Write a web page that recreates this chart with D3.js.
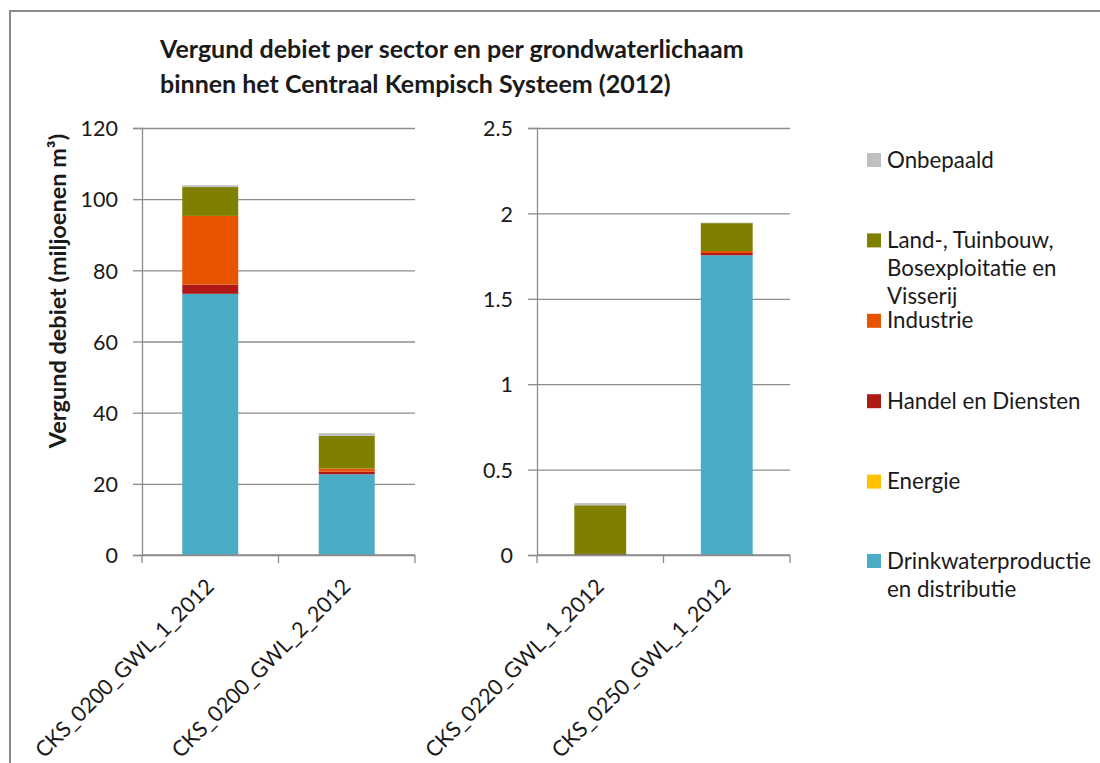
<!DOCTYPE html>
<html>
<head>
<meta charset="utf-8">
<script src="https://cdn.jsdelivr.net/npm/d3@7"></script>
<style>
  html, body { margin: 0; padding: 0; background: #fff; }
  svg { display: block; font-family: Lato, "Open Sans", sans-serif; }
</style>
</head>
<body>
<svg id="chart" width="1100" height="763"></svg>
<script>
// Groundwater bodies, split over two panels with their own scale
const categoriesLeft = ["CKS_0200_GWL_1_2012", "CKS_0200_GWL_2_2012"];
const categoriesRight = ["CKS_0220_GWL_1_2012", "CKS_0250_GWL_1_2012"];

// Sectors, stacked bottom to top
const sectors = [
  "Drinkwaterproductie en distributie",
  "Energie",
  "Handel en Diensten",
  "Industrie",
  "Land-, Tuinbouw, Bosexploitatie en Visserij",
  "Onbepaald"
];

// Licensed volume (million m³), in the order of categoriesLeft then categoriesRight
const drinkwater = [73.4, 22.7, 0, 1.755];
const energie    = [0, 0, 0, 0];
const handel     = [2.6, 0.75, 0.006, 0.013];
const industrie  = [19.3, 0.85, 0, 0.012];
const land       = [8.1, 9.2, 0.285, 0.163];
const onbepaald  = [0.5, 0.75, 0.013, 0.003];

const ticksLeft = [0, 20, 40, 60, 80, 100, 120];
const ticksRight = [0, 0.5, 1, 1.5, 2, 2.5];

const colors = ["#4BACC6", "#FFC000", "#B01A16", "#E85300", "#7F7F00", "#C0C0C0"];
const legendLines = [
  ["Drinkwaterproductie", "en distributie"],
  ["Energie"],
  ["Handel en Diensten"],
  ["Industrie"],
  ["Land-, Tuinbouw,", "Bosexploitatie en", "Visserij"],
  ["Onbepaald"]
];

const allCats = categoriesLeft.concat(categoriesRight);
const table = allCats.map((c, i) => ({
  cat: c,
  [sectors[0]]: drinkwater[i],
  [sectors[1]]: energie[i],
  [sectors[2]]: handel[i],
  [sectors[3]]: industrie[i],
  [sectors[4]]: land[i],
  [sectors[5]]: onbepaald[i]
}));
const stacked = d3.stack().keys(sectors)(table);
const color = d3.scaleOrdinal().domain(sectors).range(colors);

const svg = d3.select("#chart");
const gridColor = "#8c8c8c";
const textColor = "#1a1a1a";

// frame of the chart area
svg.append("path")
  .attr("d", "M10,763 L10,11 L1100,11")
  .attr("fill", "none").attr("stroke", "#8a8a8a").attr("stroke-width", 2);

// title
const title = svg.append("text")
  .attr("x", 160).attr("font-size", 25).attr("font-weight", 700).attr("fill", textColor);
title.append("tspan").attr("x", 160).attr("y", 58).text("Vergund debiet per sector en per grondwaterlichaam");
title.append("tspan").attr("x", 160).attr("y", 93).text("binnen het Centraal Kempisch Systeem (2012)");

const plotTop = 128, plotBottom = 555;

function panel(cats, domainMax, ticks, x0, x1, fmt) {
  const x = d3.scaleBand().domain(cats).range([x0, x1]).paddingInner(0.59).paddingOuter(0.295);
  const y = d3.scaleLinear().domain([0, domainMax]).range([plotBottom, plotTop]);
  const g = svg.append("g");

  // gridlines
  g.append("g")
    .attr("transform", `translate(${x0},0)`)
    .call(d3.axisLeft(y).tickValues(ticks).tickSize(-(x1 - x0)).tickFormat(""))
    .call(a => a.select(".domain").remove())
    .call(a => a.selectAll("line").attr("stroke", gridColor).attr("stroke-width", 1.3));

  // value axis
  g.append("g")
    .attr("transform", `translate(${x0},0)`)
    .call(d3.axisLeft(y).tickValues(ticks).tickSize(9).tickPadding(15).tickFormat(fmt))
    .call(a => a.select(".domain").attr("stroke", gridColor).attr("stroke-width", 1.3))
    .call(a => a.selectAll("line").attr("stroke", gridColor).attr("stroke-width", 1.3))
    .call(a => a.selectAll("text").attr("font-size", 21.5).attr("fill", textColor)
      .attr("font-family", "Lato, sans-serif").attr("dy", "0.36em"));

  // stacked bars
  const idx = cats.map(c => allCats.indexOf(c));
  g.selectAll("g.layer").data(stacked).join("g")
    .attr("class", "layer")
    .attr("fill", d => color(d.key))
    .selectAll("rect")
    .data(d => idx.map(i => d[i]))
    .join("rect")
    .attr("x", d => x(d.data.cat))
    .attr("width", x.bandwidth())
    .attr("y", d => y(d[1]))
    .attr("height", d => y(d[0]) - y(d[1]));

  // category axis with ticks between categories
  g.append("line")
    .attr("x1", x0).attr("x2", x1).attr("y1", plotBottom).attr("y2", plotBottom)
    .attr("stroke", gridColor).attr("stroke-width", 1.3);
  const step = x.step();
  g.selectAll("line.sep").data(d3.range(cats.length + 1)).join("line")
    .attr("class", "sep")
    .attr("x1", i => x0 + i * step).attr("x2", i => x0 + i * step)
    .attr("y1", plotBottom).attr("y2", plotBottom + 8)
    .attr("stroke", gridColor).attr("stroke-width", 1.3);

  // rotated category labels
  g.selectAll("text.cat").data(cats).join("text")
    .attr("class", "cat")
    .attr("transform", c => `translate(${x(c) + x.bandwidth() / 2 + 5},${plotBottom + 33}) rotate(-45)`)
    .attr("text-anchor", "end")
    .attr("font-size", 21.6)
    .attr("fill", textColor)
    .text(c => c);
}

panel(categoriesLeft, 120, ticksLeft, 142, 415, d3.format("d"));
panel(categoriesRight, 2.5, ticksRight, 537, 790, d => String(d));

// value axis title
svg.append("text")
  .attr("transform", "translate(66,291) rotate(-90)")
  .attr("text-anchor", "middle")
  .attr("font-size", 23.5).attr("font-weight", 700).attr("fill", textColor)
  .text("Vergund debiet (miljoenen m³)");

// legend, top entry is the top of the stack
const legendCenters = [561, 481.6, 401.2, 320.8, 240.4, 160];
const lg = svg.append("g");
sectors.forEach((s, i) => {
  const cy = legendCenters[i];
  lg.append("rect").attr("x", 867).attr("y", cy - 7).attr("width", 14).attr("height", 14).attr("fill", colors[i]);
  const t = lg.append("text").attr("font-size", 22.3).attr("fill", textColor);
  legendLines[i].forEach((line, k) => {
    t.append("tspan").attr("x", 887).attr("y", cy + 7.5 + k * 28).text(line);
  });
});
</script>
</body>
</html>
